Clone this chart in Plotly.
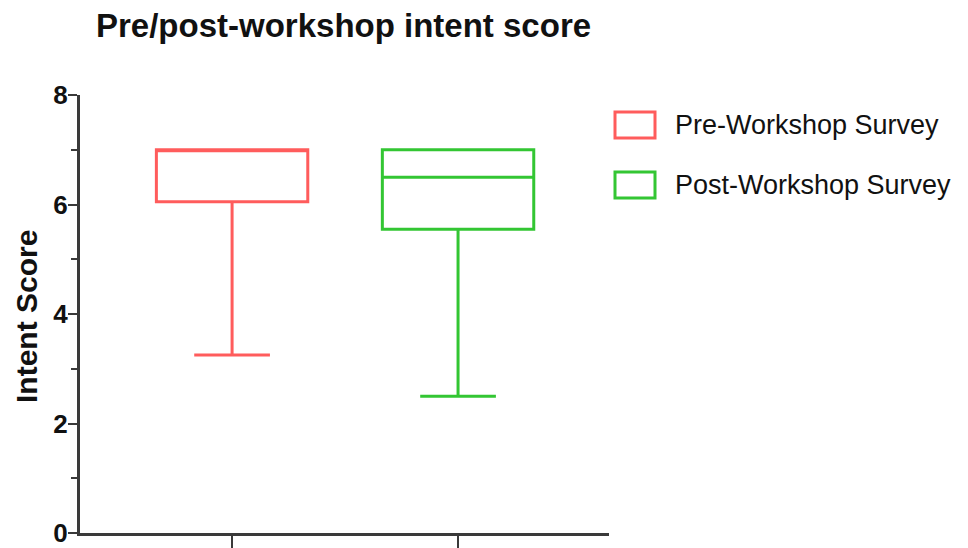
import plotly.graph_objects as go

groups = ["Pre-Workshop Survey", "Post-Workshop Survey"]
positions = [0, 1]
lower = [3.25, 2.5]
q1 = [6.05, 5.55]
median = [7.0, 6.5]
q3 = [7.0, 7.0]
upper = [7.0, 7.0]
colors = ["#FF5C5C", "#33C633"]

# The page body has an 8px margin, so the figure is drawn 8px smaller and
# all reference pixel positions are shifted by OFF.
OFF = 8
W, H = 968 - OFF, 548 - OFF
L, R, T, B = 80 - OFF, 609 - OFF, 95 - OFF, 533 - OFF
FONT = "Liberation Sans, Arial, Helvetica, sans-serif"

def px_x(px):
    return (px - OFF - L) / (R - L)

def px_y(py):
    return (B - (py - OFF)) / (B - T)

fig = go.Figure()
for i, name in enumerate(groups):
    fig.add_trace(go.Box(
        name=name,
        x=[positions[i]],
        q1=[q1[i]], median=[median[i]], q3=[q3[i]],
        lowerfence=[lower[i]], upperfence=[upper[i]],
        width=0.67,
        whiskerwidth=0.5,
        line=dict(color=colors[i], width=3),
        fillcolor="rgba(255,255,255,0)",
        boxpoints=False,
        showlegend=False,
        hoverinfo="skip",
    ))

# legend drawn as outlined rectangles + labels (matches the reference's large box keys)
shapes = []
annotations = []
for i, name in enumerate(groups):
    cy = 125 + 60 * i
    shapes.append(dict(type="rect", xref="paper", yref="paper",
                       x0=px_x(615), x1=px_x(655), y0=px_y(cy + 13), y1=px_y(cy - 13),
                       line=dict(color=colors[i], width=3), fillcolor="rgba(0,0,0,0)"))
    annotations.append(dict(text=name, xref="paper", yref="paper",
                            x=px_x(673), y=px_y(cy), xanchor="left", yanchor="middle",
                            showarrow=False, font=dict(size=27, color="#111", family=FONT)))

# y-axis title
annotations.append(dict(text="<b>Intent Score</b>", xref="paper", yref="paper",
                        x=px_x(26), y=px_y(317), xanchor="center", yanchor="middle",
                        textangle=-90, showarrow=False,
                        font=dict(size=30, color="#111", family=FONT)))

fig.update_layout(
    width=W, height=H,
    margin=dict(l=L, r=W - R, t=T, b=H - B),
    paper_bgcolor="white", plot_bgcolor="white",
    font=dict(family=FONT, color="#111"),
    title=dict(text="<b>Pre/post-workshop intent score</b>",
               x=(96 - OFF)/W, xref="container", xanchor="left",
               y=1 - (25 - OFF)/H, yref="container", yanchor="middle",
               font=dict(size=33, color="#111", family=FONT)),
    showlegend=False,
    shapes=shapes,
    annotations=annotations,
    xaxis=dict(range=[-0.673, 1.668], showgrid=False, zeroline=False, automargin=False,
               showline=True, linecolor="#3a3a3a", linewidth=3,
               tickmode="array", tickvals=positions, ticktext=["", ""],
               ticks="outside", ticklen=12, tickwidth=2, tickcolor="#3a3a3a"),
    yaxis=dict(range=[0, 8], showgrid=False, zeroline=False, automargin=False,
               showline=True, linecolor="#3a3a3a", linewidth=3,
               tickmode="linear", tick0=0, dtick=2,
               ticks="outside", ticklen=9, tickwidth=2, tickcolor="#3a3a3a",
               ticklabelstandoff=-5, ticklabeloverflow="allow",
               tickfont=dict(size=26, color="#111", family=FONT, weight="bold"),
               minor=dict(dtick=1, ticks="outside", ticklen=6, tickwidth=2, tickcolor="#3a3a3a")),
)

fig.write_html("out.html")
